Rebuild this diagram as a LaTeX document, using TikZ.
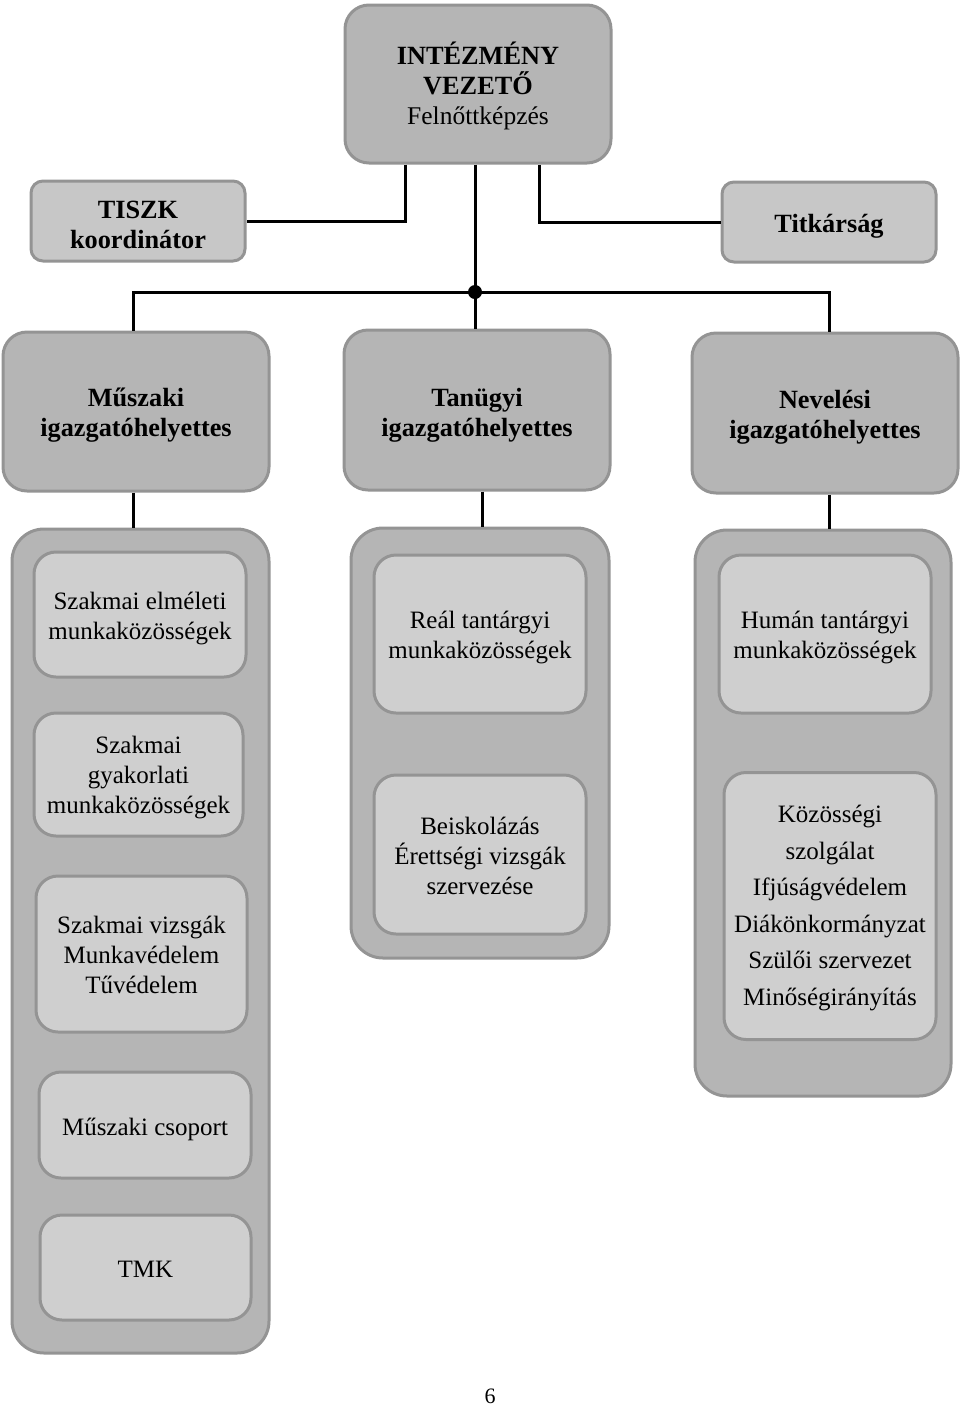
\documentclass[tikz,border=0pt]{standalone}
\usepackage{fontspec}
\setmainfont{Liberation Serif}
\definecolor{darkfill}{gray}{0.71}
\definecolor{lightfill}{gray}{0.81}
\definecolor{midfill}{gray}{0.78}
\definecolor{edgegray}{gray}{0.58}
\begin{document}
\begin{tikzpicture}[x=1pt,y=-1pt,
  box/.style={draw=edgegray,line width=3pt,rounded corners=24pt,inner sep=0pt},
  headbox/.style={box,fill=darkfill},
  sidebox/.style={box,fill=midfill,rounded corners=12pt},
  container/.style={draw=edgegray,line width=3pt,fill=darkfill,rounded corners=32pt,inner sep=0pt},
  inbox/.style={box,fill=lightfill,rounded corners=22pt},
  btext/.style={align=center,inner sep=0pt,font=\fontsize{26.3}{30}\selectfont\bfseries},
  rtext/.style={align=center,inner sep=0pt,font=\fontsize{25}{30}\selectfont},
  conn/.style={line width=3pt,black}]
\useasboundingbox (0,0) rectangle (960,1406);
% top level
\node[headbox,minimum width=266pt,minimum height=158pt] (top) at (478,84) {};
\node[btext] (top-t) at ([yshift=-1.5pt]top.center) {INTÉZMÉNY\\VEZETŐ\\\mdseries\fontsize{25.5}{30}\selectfont Felnőttképzés};
\node[sidebox,minimum width=214pt,minimum height=80pt] (tiszk) at (138,221) {};
\node[btext] (tiszk-t) at ([yshift=-4pt]tiszk.center) {TISZK\\koordinátor};
\node[sidebox,minimum width=214pt,minimum height=80pt] (titk) at (829,222) {};
\node[btext] (titk-t) at ([yshift=-4pt]titk.center) {Titkárság};
% deputies
\node[headbox,minimum width=266pt,minimum height=159pt] (musz) at (136,411.5) {};
\node[btext] (musz-t) at ([yshift=-4pt]musz.center) {Műszaki\\igazgatóhelyettes};
\node[headbox,minimum width=266pt,minimum height=160pt] (tan) at (477,410) {};
\node[btext] (tan-t) at ([yshift=-5.5pt]tan.center) {Tanügyi\\igazgatóhelyettes};
\node[headbox,minimum width=266pt,minimum height=160pt] (nev) at (825,413) {};
\node[btext] (nev-t) at ([yshift=-4.5pt]nev.center) {Nevelési\\igazgatóhelyettes};
% containers
\node[container,minimum width=257pt,minimum height=824pt] (cl) at (140.5,941) {};
\node[container,minimum width=258pt,minimum height=430pt] (cm) at (480,743) {};
\node[container,minimum width=256pt,minimum height=566pt] (cr) at (823,813) {};
% inner boxes left
\node[inbox,minimum width=212pt,minimum height=125pt] (e1) at (140,614.5) {};
\node[rtext] (e1-t) at ([yshift=-4pt]e1.center) {Szakmai elméleti\\munkaközösségek};
\node[inbox,minimum width=209pt,minimum height=123pt] (e2) at (138.5,774.5) {};
\node[rtext] (e2-t) at ([yshift=-3pt]e2.center) {Szakmai\\gyakorlati\\munkaközösségek};
\node[inbox,minimum width=211pt,minimum height=156pt] (e3) at (141.5,954) {};
\node[rtext] (e3-t) at ([yshift=-1pt]e3.center) {Szakmai vizsgák\\Munkavédelem\\Tűvédelem};
\node[inbox,minimum width=212pt,minimum height=106pt] (e4) at (145,1125) {};
\node[rtext] (e4-t) at ([yshift=-4pt]e4.center) {Műszaki csoport};
\node[inbox,minimum width=211pt,minimum height=105pt] (e5) at (145.5,1267.5) {};
\node[rtext] (e5-t) at ([yshift=-2pt]e5.center) {TMK};
% inner boxes middle
\node[inbox,minimum width=212pt,minimum height=158pt] (m1) at (480,634) {};
\node[rtext] (m1-t) at ([yshift=-3pt]m1.center) {Reál tantárgyi\\munkaközösségek};
\node[inbox,minimum width=212pt,minimum height=159pt] (m2) at (480,854.5) {};
\node[rtext] (m2-t) at ([yshift=-1pt]m2.center) {Beiskolázás\\Érettségi vizsgák\\szervezése};
% inner boxes right
\node[inbox,minimum width=212pt,minimum height=158pt] (r1) at (825,634) {};
\node[rtext] (r1-t) at ([yshift=-3pt]r1.center) {Humán tantárgyi\\munkaközösségek};
\node[inbox,minimum width=212pt,minimum height=267pt] (r2) at (830,906) {};
\node[rtext,font=\fontsize{25}{36.5}\selectfont] (r2-t) at ([yshift=-2pt]r2.center)
  {Közösségi\\szolgálat\\Ifjúságvédelem\\Diákönkormányzat\\Szülői szervezet\\Minőségirányítás};
% connectors
\coordinate (j) at (475,292);
\draw[conn] ([xshift=-73pt]top.south) |- (tiszk.east);
\draw[conn] ([xshift=61pt]top.south) |- (titk.west);
\draw[conn] (top.south -| j) -- (j);
\draw[conn] ([xshift=-3pt]musz.north) |- (j) -| ([xshift=4pt]nev.north);
\draw[conn] (j) -- (j |- tan.north);
\fill (j) circle (7pt);
\draw[conn] ([xshift=-3pt]musz.south) -- ([xshift=-3pt]musz.south |- cl.north);
\draw[conn] ([xshift=5pt]tan.south) -- ([xshift=5pt]tan.south |- cm.north);
\draw[conn] ([xshift=4pt]nev.south) -- ([xshift=4pt]nev.south |- cr.north);
% page number
\node[font=\fontsize{22}{26}\selectfont] (pg) at (490,1396) {6};
\end{tikzpicture}
\end{document}
